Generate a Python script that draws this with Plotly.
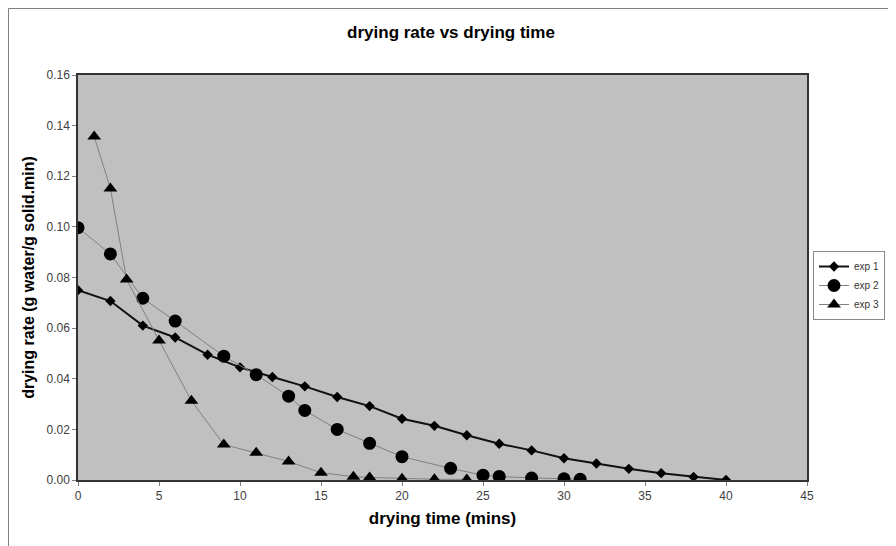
import plotly.graph_objects as go

# ---- data ----
exp1_time = [0, 2, 4, 6, 8, 10, 12, 14, 16, 18, 20, 22, 24, 26, 28, 30, 32, 34, 36, 38, 40]
exp1_rate = [0.0750, 0.0707, 0.0610, 0.0563, 0.0495, 0.0445, 0.0407, 0.0370, 0.0328, 0.0292,
             0.0242, 0.0214, 0.0177, 0.0143, 0.0117, 0.0086, 0.0065, 0.0044, 0.0027, 0.0012, 0.0000]

exp2_time = [0, 2, 4, 6, 9, 11, 13, 14, 16, 18, 20, 23, 25, 26, 28, 30, 31]
exp2_rate = [0.0997, 0.0893, 0.0718, 0.0628, 0.0489, 0.0416, 0.0331, 0.0275, 0.0200, 0.0145,
             0.0092, 0.0046, 0.0019, 0.0014, 0.0008, 0.0005, 0.0003]

exp3_time = [1, 2, 3, 5, 7, 9, 11, 13, 15, 17, 18, 20, 22, 24]
exp3_rate = [0.1357, 0.1152, 0.0792, 0.0551, 0.0313, 0.0140, 0.0108, 0.0073, 0.0029, 0.0013,
             0.0010, 0.0005, 0.0003, 0.0002]

series_names = ["exp 1", "exp 2", "exp 3"]
title_text = "drying rate vs drying time"
x_title = "drying time (mins)"
y_title = "drying rate (g water/g solid.min)"
x_ticks = [0, 5, 10, 15, 20, 25, 30, 35, 40, 45]
y_ticks = [0.00, 0.02, 0.04, 0.06, 0.08, 0.10, 0.12, 0.14, 0.16]

FONT = "Arial, Liberation Sans, Helvetica, sans-serif"

fig = go.Figure()
fig.add_trace(go.Scatter(
    x=exp1_time, y=exp1_rate, name=series_names[0], mode="lines+markers",
    line=dict(color="#111111", width=2),
    marker=dict(symbol="diamond", size=8, color="black"),
))
fig.add_trace(go.Scatter(
    x=exp2_time, y=exp2_rate, name=series_names[1], mode="lines+markers",
    line=dict(color="#808080", width=1),
    marker=dict(symbol="circle", size=13, color="black"),
))
fig.add_trace(go.Scatter(
    x=exp3_time, y=exp3_rate, name=series_names[2], mode="lines+markers",
    line=dict(color="#808080", width=1),
    marker=dict(symbol="triangle-up", size=12, color="black"),
))

# page has an 8px body margin; figure coordinates = page coordinates - 8
OFF = 8
W, H = 896 - OFF, 546 - OFF
L = 78 - OFF
T = 75 - OFF
PR = 807 - OFF   # plot right edge
PB = 480 - OFF   # plot bottom edge
R = W - PR
B = H - PB
pw = PR - L
ph = PB - T

def px_to_paper_x(px):
    return (px - OFF - L) / pw

def px_to_paper_y(py):
    return (PB - (py - OFF)) / ph

fig.update_layout(
    width=W, height=H,
    margin=dict(l=L, r=R, t=T, b=B, autoexpand=False),
    paper_bgcolor="white",
    plot_bgcolor="#C0C0C0",
    font=dict(family=FONT, size=11, color="#333333"),
    title=dict(text="<b>" + title_text + "</b>", x=px_to_paper_x(451), xref="paper",
               xanchor="center", y=1 - (32 - OFF) / H, yanchor="middle",
               font=dict(family=FONT, size=17, color="black")),
    showlegend=True,
    legend=dict(x=px_to_paper_x(813), y=px_to_paper_y(251), xanchor="left", yanchor="top",
                bgcolor="white", bordercolor="#888888", borderwidth=1,
                font=dict(family=FONT, size=10, color="#333333"),
                tracegroupgap=0, itemwidth=30),
    xaxis=dict(
        range=[0, 45], tickvals=x_ticks, ticktext=[str(v) for v in x_ticks],
        showgrid=False, zeroline=False,
        showline=True, linecolor="#333333", linewidth=1.5, mirror=True,
        ticks="outside", ticklen=4, tickcolor="#808080",
        tickfont=dict(family=FONT, size=12, color="#404040"),
        title=dict(text="<b>" + x_title + "</b>", font=dict(family=FONT, size=17, color="black"),
                   standoff=10),
    ),
    yaxis=dict(
        range=[0, 0.16], tickvals=y_ticks, ticktext=["%.2f" % v for v in y_ticks],
        showgrid=False, zeroline=False,
        showline=True, linecolor="#333333", linewidth=1.5, mirror=True,
        ticks="outside", ticklen=4, tickcolor="#808080",
        tickfont=dict(family=FONT, size=12, color="#404040"),
        title=dict(text="<b>" + y_title + "</b>", font=dict(family=FONT, size=16, color="black"),
                   standoff=8),
    ),
)

# outer chart frame
fig.add_shape(type="rect", xref="paper", yref="paper",
              x0=px_to_paper_x(8.5), x1=px_to_paper_x(893),
              y0=px_to_paper_y(560), y1=px_to_paper_y(8.5),
              line=dict(color="#808080", width=1), fillcolor="rgba(0,0,0,0)", layer="below")

fig.write_html("out.html")
